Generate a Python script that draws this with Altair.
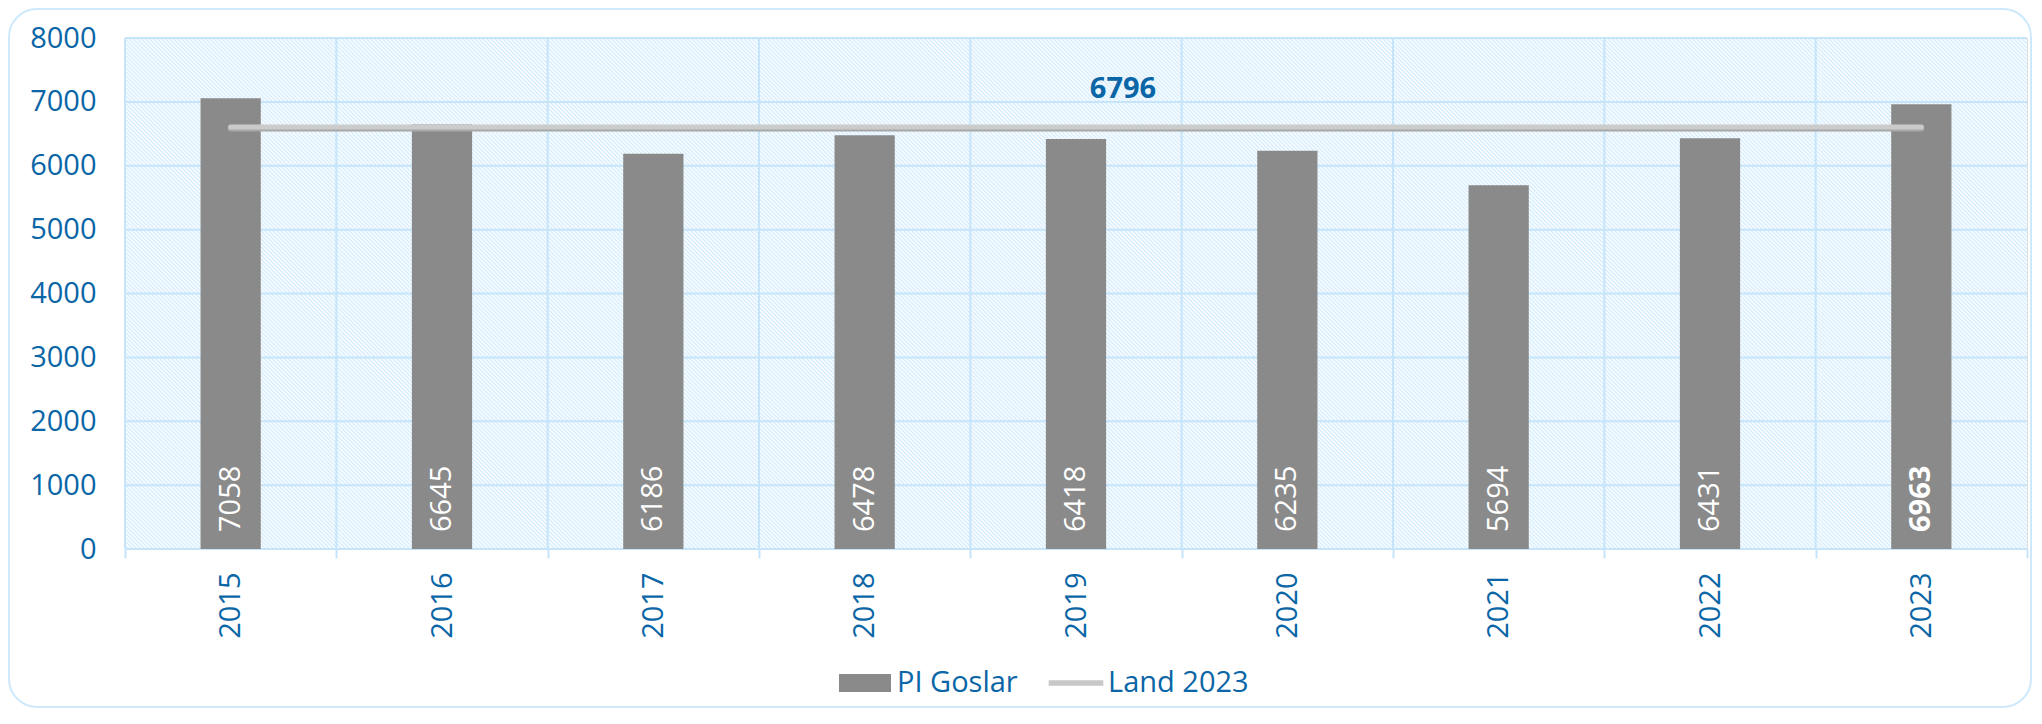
import math
import altair as alt
import pandas as pd

# ---------------- data ----------------
years = ["2015", "2016", "2017", "2018", "2019", "2020", "2021", "2022", "2023"]
pi_goslar = [7058, 6645, 6186, 6478, 6418, 6235, 5694, 6431, 6963]
land_2023_line = 6600          # level at which the reference line is drawn
land_2023_label = "6796"       # value printed above the line
label_year = "2019"
highlight_year = "2023"
y_ticks = [0, 1000, 2000, 3000, 4000, 5000, 6000, 7000, 8000]
series_names = ["PI Goslar", "Land 2023"]

# ---------------- style ----------------
W, H = 1902, 511
BLUE = "#0a66a6"
GRID = "#c6e5fb"
HATCH = "#d3ecfd"
BAR = "#8a8a8a"
FONT = "Open Sans"
FS = 29

bars_df = pd.DataFrame({"year": years, "value": pi_goslar})
line_df = pd.DataFrame({"year": years, "value": [land_2023_line] * len(years)})
lab_df = pd.DataFrame({"year": [label_year], "value": [land_2023_line], "label": [land_2023_label]})
tick_df = pd.DataFrame({"v": y_ticks})
leg_df = pd.DataFrame({"series": series_names, "year": [years[0]] * 2, "value": [0, 0]})
one_df = pd.DataFrame({"a": [0]})

# diagonal hatching as a striped gradient (style only)
s = (W + H) / (W * W + H * H)
x2g, y2g = s * W, 1 - s * H
perp = (W + H) / math.sqrt(2)
n_half = int(perp / 1.42)
stops = []
for i in range(n_half + 1):
    stops.append(alt.GradientStop(color=HATCH if i % 2 == 0 else "#ffffff", offset=min(1.0, i / n_half)))
hatch_grad = alt.LinearGradient(gradient="linear", stops=stops, x1=0, y1=1, x2=x2g, y2=y2g)

x_enc = alt.X(
    "year:N",
    sort=years,
    scale=alt.Scale(paddingInner=0, paddingOuter=0),
    axis=alt.Axis(
        title=None, labelAngle=-90, labelFontSize=FS, labelColor=BLUE, labelFont=FONT,
        ticks=True, tickBand="extent", tickColor=GRID, tickWidth=2, tickSize=9,
        domain=False, grid=False, labelPadding=14,
    ),
)
y_scale = alt.Scale(domain=[0, 8000], nice=False)
y_enc = alt.Y(
    "value:Q",
    scale=y_scale,
    axis=alt.Axis(
        title=None, values=y_ticks, format="d", grid=False, domain=False, ticks=False,
        labelFontSize=FS, labelColor=BLUE, labelFont=FONT, labelPadding=29,
    ),
)

hatch = alt.Chart(one_df).mark_rect(color=hatch_grad).encode(
    x=alt.value(0), x2=alt.value(W), y=alt.value(0), y2=alt.value(H)
)

vgrid = alt.Chart(bars_df).mark_rule(color=GRID, strokeWidth=2).encode(
    x=alt.X("year:N", sort=years, bandPosition=0)
)
hgrid = alt.Chart(tick_df).mark_rule(color=GRID, strokeWidth=2).encode(
    y=alt.Y("v:Q", scale=y_scale)
)

bars = alt.Chart(bars_df).mark_bar(color=BAR, width=alt.RelativeBandSize(0.285)).encode(
    x=x_enc, y=y_enc
)

line_base = alt.Chart(line_df).mark_line(color="#a8a8a8", strokeWidth=6, strokeCap="round", yOffset=1).encode(
    x=alt.X("year:N", sort=years), y=alt.Y("value:Q", scale=y_scale)
)
line_top = alt.Chart(line_df).mark_line(color="#cbcbcb", strokeWidth=5, strokeCap="round", yOffset=-0.5).encode(
    x=alt.X("year:N", sort=years), y=alt.Y("value:Q", scale=y_scale)
)

line_label = alt.Chart(lab_df).mark_text(
    color=BLUE, font=FONT, fontSize=FS, fontWeight="bold", baseline="alphabetic", dx=47, dy=-29
).encode(x=alt.X("year:N", sort=years), y=alt.Y("value:Q", scale=y_scale), text="label:N")

bar_text_base = alt.Chart(bars_df).transform_calculate(lab="format(datum.value, 'd')")
bar_text = bar_text_base.transform_filter(alt.datum.year != highlight_year).mark_text(
    color="white", font=FONT, fontSize=FS, angle=270, align="left", baseline="middle", dx=17
).encode(x=alt.X("year:N", sort=years), y=alt.datum(0), text="lab:N")
bar_text_bold = bar_text_base.transform_filter(alt.datum.year == highlight_year).mark_text(
    color="white", font=FONT, fontSize=FS, fontWeight="bold", angle=270, align="left", baseline="middle", dx=17
).encode(x=alt.X("year:N", sort=years), y=alt.datum(0), text="lab:N")

rect_path = "M-1,-0.35H1V0.35H-1Z"
line_path = "M-1.05,-0.11H1.05V0.11H-1.05Z"
legend_props = dict(
    title=None, orient="none", legendX=714, legendY=619, direction="horizontal",
    symbolSize=2704, symbolStrokeWidth=0, symbolOpacity=1,
    labelFontSize=FS, labelColor=BLUE, labelFont=FONT, labelOffset=6, columnPadding=30,
)
legend_pts = alt.Chart(leg_df).mark_point(filled=True, opacity=0).encode(
    x=alt.X("year:N", sort=years),
    y=alt.Y("value:Q", scale=y_scale),
    color=alt.Color("series:N", scale=alt.Scale(domain=series_names, range=[BAR, "#c8c8c8"]),
                    legend=alt.Legend(**legend_props)),
    shape=alt.Shape("series:N", scale=alt.Scale(domain=series_names, range=[rect_path, line_path]),
                    legend=alt.Legend(**legend_props)),
)

frame = alt.Chart(one_df).mark_rect(
    fill=None, fillOpacity=0, stroke="#cfe9fc", strokeWidth=2, cornerRadius=28
).encode(x=alt.value(-116), x2=alt.value(W + 4), y=alt.value(-29), y2=alt.value(H + 158))

chart = alt.layer(
    hatch, vgrid, hgrid, bars, line_base, line_top, line_label, bar_text, bar_text_bold, legend_pts, frame
).properties(
    width=W, height=H,
    autosize=alt.AutoSizeParams(type="none"),
    padding={"left": 117, "top": 30, "right": 5, "bottom": 160},
).configure_view(stroke=GRID, strokeWidth=2).configure(font=FONT, background="white")

chart.save("out.html", embed_options={"renderer": "svg", "actions": False})
